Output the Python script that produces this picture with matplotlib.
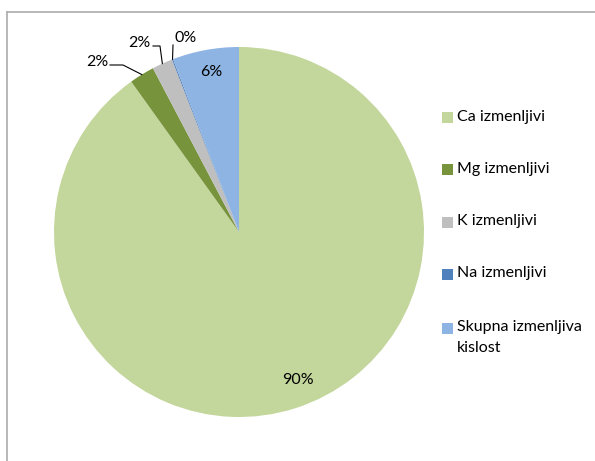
import numpy as np
import matplotlib.pyplot as plt
from matplotlib.patches import Rectangle
from matplotlib.lines import Line2D

plt.rcParams["font.family"] = ["Lato", "DejaVu Sans"]

# podatki (deleži izmenljivih kationov, %)
kategorije = ["Ca izmenljivi", "Mg izmenljivi", "K izmenljivi", "Na izmenljivi",
              "Skupna izmenljiva\nkislost"]
vrednosti = [90.1, 2.2, 1.8, 0.1, 5.8]
barve = ["#C3D69B", "#77933C", "#BFBFBF", "#4F81BD", "#8EB4E3"]

W, H = 595, 461
fig = plt.figure(figsize=(W / 100, H / 100), dpi=100)

# okvir grafikona (odrezan desno in spodaj)
fig.add_artist(Line2D([7 / W, 1], [1 - 12 / H, 1 - 12 / H], color="#ABABAB", lw=1.2))
fig.add_artist(Line2D([7 / W, 7 / W], [0, 1 - 12 / H], color="#ABABAB", lw=1.2))

cx, cy, r = 239, 232, 185
ax = fig.add_axes([(cx - r) / W, (H - cy - r) / H, 2 * r / W, 2 * r / H])
wedges, _ = ax.pie(vrednosti, colors=barve, startangle=90, counterclock=False,
                   radius=1, wedgeprops=dict(linewidth=0))
ax.set_xlim(-1, 1)
ax.set_ylim(-1, 1)
ax.set_aspect("equal")
ax.axis("off")


def sredina(w, rr=1.0):
    a = np.deg2rad((w.theta1 + w.theta2) / 2)
    return rr * np.cos(a), rr * np.sin(a)


def px(x, y):
    return (x - cx) / r, (cy - y) / r


oznake = [f"{round(v)}%" for v in vrednosti]
fs = 11.5

# oznake znotraj krožnice
ax.text(*px(297.5, 380), oznake[0], ha="center", va="center", fontsize=fs)
ax.text(*px(211, 72), oznake[4], ha="center", va="center", fontsize=fs)

# oznake z vodilnimi črtami
zunanje = {
    1: ((97, 62), [(110, 65), (123, 65)]),
    2: ((139, 43), [(153, 46), (160, 46)]),
    3: ((186, 38), [(173, 45)]),
}
for i, ((tx, ty), tocke) in zunanje.items():
    ax.text(*px(tx, ty), oznake[i], ha="center", va="center", fontsize=fs, clip_on=False)
    pts = [px(a, b) for a, b in tocke] + [sredina(wedges[i], 1.0)]
    xs, ys = zip(*pts)
    ax.plot(xs, ys, color="black", lw=0.8, clip_on=False)

# legenda
ly = [117.5, 170, 222.5, 274.5, 328]
for yy, lab, col in zip(ly, kategorije, barve):
    fig.add_artist(Rectangle((442 / W, 1 - (yy + 5.5) / H), 11 / W, 11 / H,
                             facecolor=col, edgecolor="none"))
    fig.text(457 / W, 1 - (yy - 8) / H, lab, ha="left", va="top", fontsize=fs,
             linespacing=1.65)

fig.savefig("out.png", dpi=100)
